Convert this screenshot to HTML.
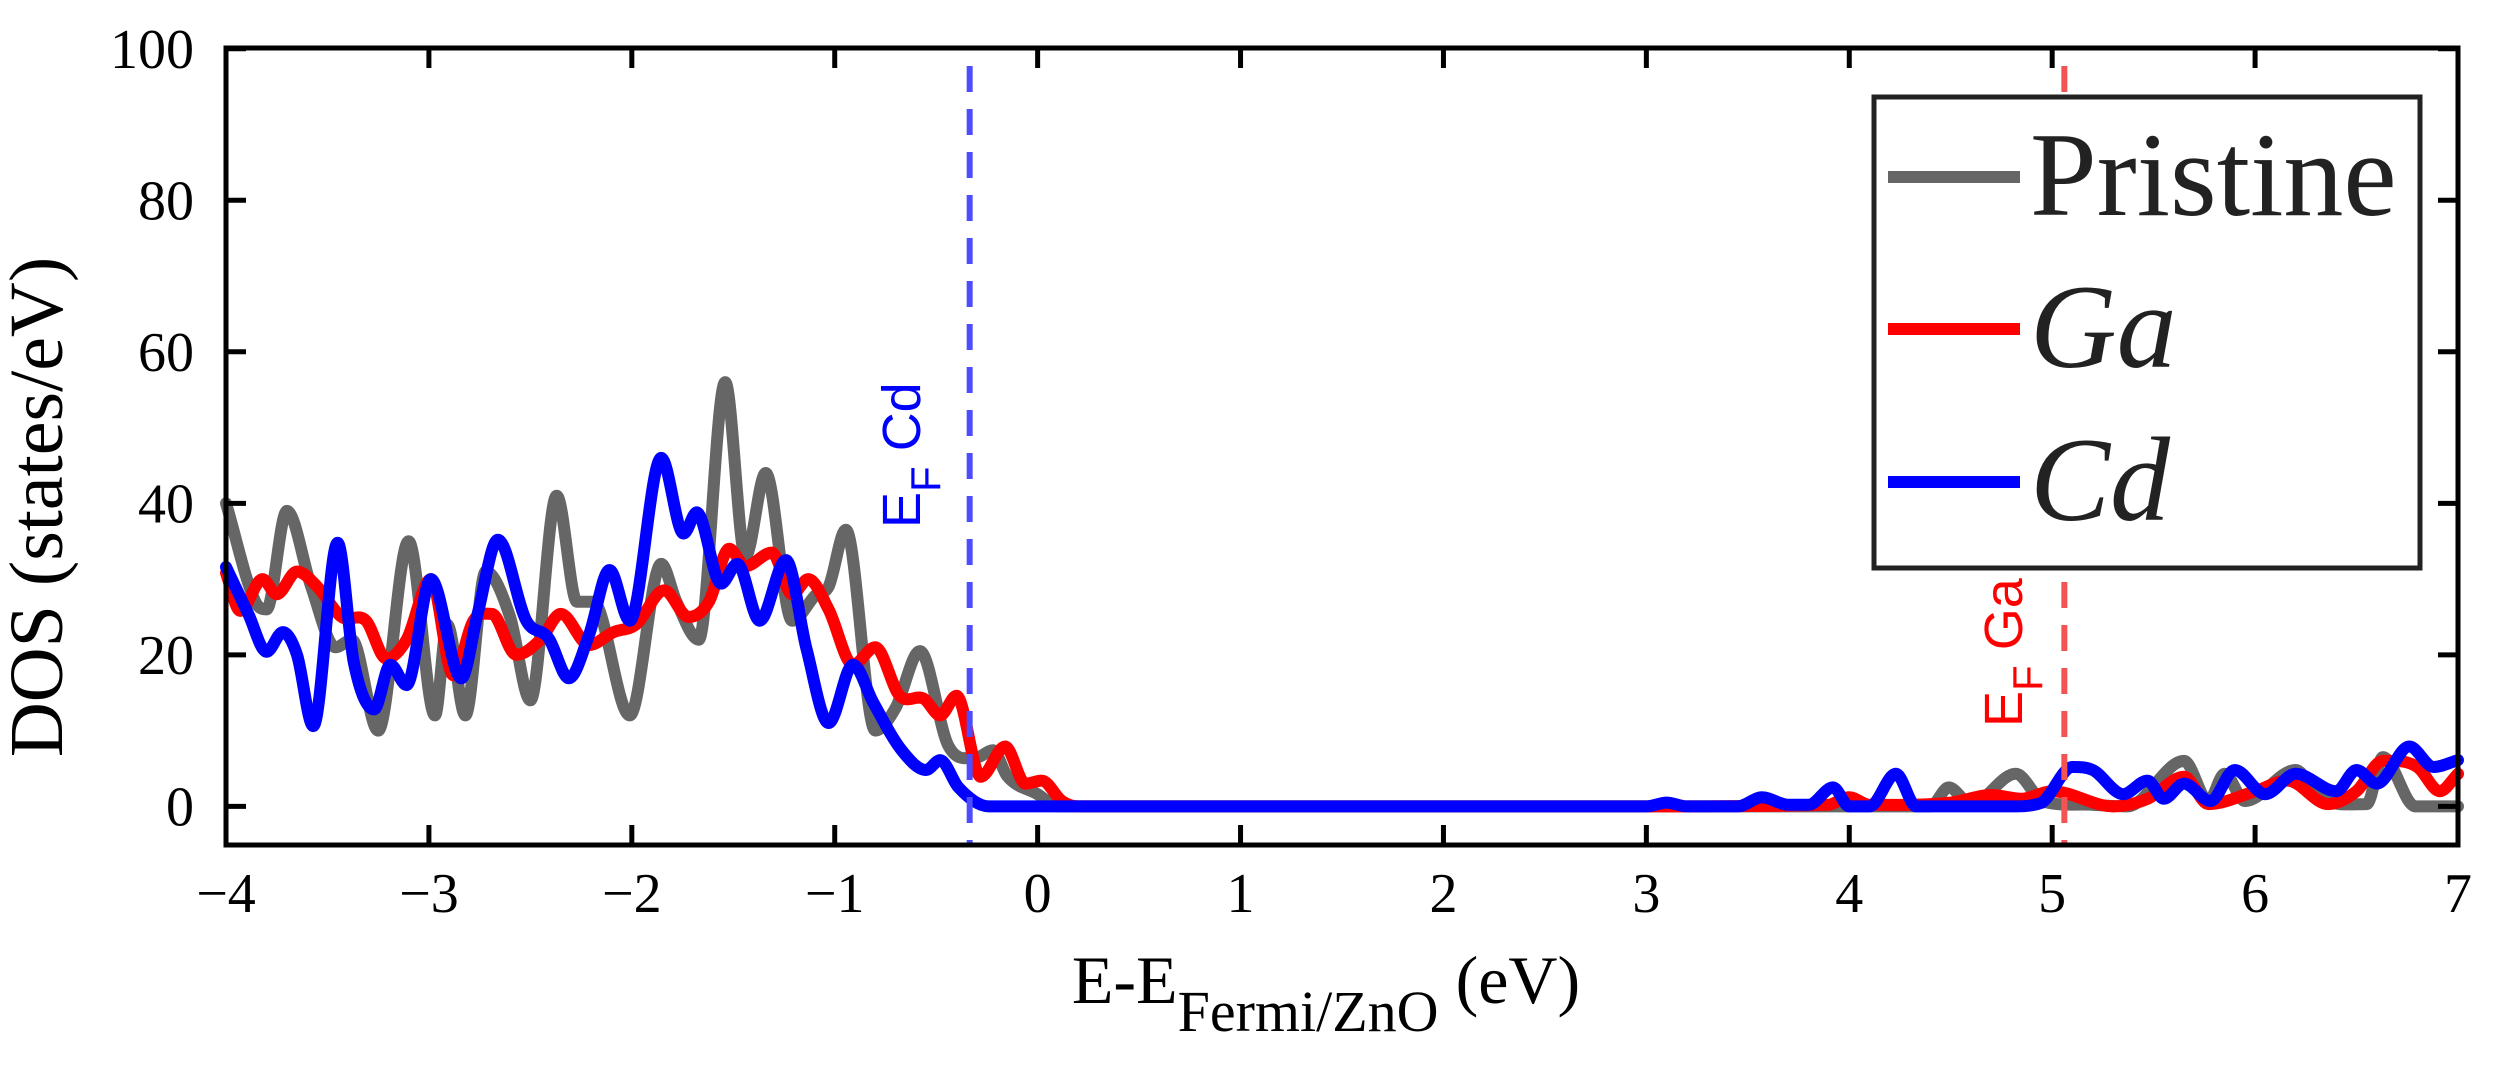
<!DOCTYPE html>
<html><head><meta charset="utf-8"><style>
html,body{margin:0;padding:0;background:#fff;}
svg{display:block;}
</style></head><body>
<svg id="chart" width="2506" height="1069" viewBox="0 0 2506 1069" xmlns="http://www.w3.org/2000/svg">
<rect x="0" y="0" width="2506" height="1069" fill="#fff"/>
<g id="plot"></g>
</svg>
<script>
const pristineE = [-4,-3.855,-3.8,-3.7,-3.58,-3.46,-3.38,-3.25,-3.1,-2.97,-2.91,-2.82,-2.72,-2.6,-2.5,-2.37,-2.27,-2.19,-2.01,-1.855,-1.78,-1.67,-1.54,-1.44,-1.34,-1.21,-1.09,-1.03,-0.945,-0.8,-0.7,-0.58,-0.44,-0.3,-0.22,-0.15,0,0.1,0.2,3.0,4.4,4.49,4.6,4.82,4.95,5.2,5.37,5.65,5.77,5.85,5.95,6.2,6.32,6.55,6.63,6.79,7];
const pristineV = [40,27,26,39,29,21,22,10,35,12,24,12,31,25,14,41,27,27,12,32,27,22,56,33,44,24.5,28,29,36.5,10,13,20.5,8,6.5,7.4,4,1.6,0,0,0,0,2.5,0.3,4.3,0.7,0.2,0,6,0.7,4.3,0.7,4.8,1,0.3,6.5,0,0];
const gaE = [-4,-3.93,-3.82,-3.75,-3.65,-3.55,-3.43,-3.31,-3.21,-3.11,-2.99,-2.88,-2.78,-2.69,-2.57,-2.45,-2.35,-2.21,-2.09,-1.98,-1.84,-1.72,-1.62,-1.52,-1.44,-1.31,-1.21,-1.13,-1.03,-0.91,-0.8,-0.68,-0.56,-0.48,-0.4,-0.28,-0.16,-0.06,0.02,0.12,0.2,3.0,3.9,4.0,4.1,4.5,4.7,4.85,5.0,5.3,5.47,5.65,5.77,6.0,6.16,6.36,6.5,6.63,6.8,6.91,7];
const gaV = [30.8,25.8,30,28,31,29,25,24.5,19.5,22,30,17.3,24.5,25.4,20,22,25.4,21.3,23,24,28.5,25,27,34,31.7,33.5,28,30,26,18.7,21,14.6,14.2,12,14.6,3.9,7.9,3,3.4,0.7,0,0,0.2,1.2,0.2,0.5,1.5,1,2,0,1,3.9,0.3,2,3.4,0.3,2,6,5.2,2,4.3];
const cdE = [-4,-3.89,-3.8,-3.72,-3.65,-3.57,-3.45,-3.37,-3.27,-3.19,-3.11,-2.99,-2.84,-2.76,-2.66,-2.52,-2.41,-2.31,-2.21,-2.11,-2.01,-1.855,-1.745,-1.68,-1.56,-1.48,-1.37,-1.24,-1.14,-1.03,-0.91,-0.81,-0.67,-0.55,-0.48,-0.39,-0.24,-0.1,3.0,3.1,3.2,3.45,3.57,3.7,3.8,3.92,4.0,4.1,4.23,4.33,4.8,4.95,5.1,5.2,5.35,5.47,5.55,5.65,5.78,5.9,6.05,6.2,6.4,6.5,6.6,6.76,6.88,7];
const cdV = [31.6,25.4,20.4,23,20,10.6,34.8,19,12.8,18.7,16,30,16.9,25.4,35.2,24.5,22.2,16.9,22.7,31.2,24.5,46,36,38.8,29.4,32,24.5,32.5,20.9,11,18.7,13.7,7.4,4.8,6.1,2.5,0,0,0,0.5,0,0,1.2,0.2,0.2,2.5,0,0,4.3,0,0,0.5,5.2,4.8,1.6,3.4,1,3,0.7,4.8,1.6,4.3,2,4.8,3,7.9,5.2,6.1];
const xTicks = [-4,-3,-2,-1,0,1,2,3,4,5,6,7];
const xTickLabels = ["\u22124","\u22123","\u22122","\u22121","0","1","2","3","4","5","6","7"];
const yTicks = [0,20,40,60,80,100];
const yTickLabels = ["0","20","40","60","80","100"];
const fermiCd = -0.335;
const fermiGa = 5.06;

const L=226, R=2458, T=48, B=845;
const xMin=-4, xMax=7, yMin=-5.1, yMax=100.1;
const sx = v => L + (v - xMin)/(xMax - xMin)*(R - L);
const sy = v => B - (v - yMin)/(yMax - yMin)*(B - T);
const NS="http://www.w3.org/2000/svg";
const g=document.getElementById('plot');
function mk(tag, attrs){const e=document.createElementNS(NS,tag);for(const k in attrs)e.setAttribute(k,attrs[k]);g.appendChild(e);return e;}

function smoothPath(xs, ys){
  const p = xs.map((x,i)=>[sx(x), sy(ys[i])]);
  const n=p.length, m=[];
  for(let i=0;i<n;i++){
    if(i===0) m.push((p[1][1]-p[0][1])/(p[1][0]-p[0][0]));
    else if(i===n-1) m.push((p[i][1]-p[i-1][1])/(p[i][0]-p[i-1][0]));
    else {
      const d0=(p[i][1]-p[i-1][1])/(p[i][0]-p[i-1][0]);
      const d1=(p[i+1][1]-p[i][1])/(p[i+1][0]-p[i][0]);
      m.push(d0*d1<=0?0:(d0+d1)/2);
    }
  }
  const yb=sy(0);
  let d = `M${p[0][0].toFixed(1)},${p[0][1].toFixed(1)}`;
  for(let i=0;i<n-1;i++){
    const dx=p[i+1][0]-p[i][0];
    const c1=[p[i][0]+dx/3, Math.min(yb,p[i][1]+m[i]*dx/3)];
    const c2=[p[i+1][0]-dx/3, Math.min(yb,p[i+1][1]-m[i+1]*dx/3)];
    d += ` C${c1[0].toFixed(1)},${c1[1].toFixed(1)} ${c2[0].toFixed(1)},${c2[1].toFixed(1)} ${p[i+1][0].toFixed(1)},${p[i+1][1].toFixed(1)}`;
  }
  return d;
}

let s;
s=mk('path',{d:smoothPath(pristineE,pristineV),fill:'none',stroke:'#666666','stroke-width':12,'stroke-linejoin':'round','stroke-linecap':'round'});


s=mk('path',{d:smoothPath(gaE,gaV),fill:'none',stroke:'#ff0000','stroke-width':12,'stroke-linejoin':'round','stroke-linecap':'round'});


s=mk('path',{d:smoothPath(cdE,cdV),fill:'none',stroke:'#0000ff','stroke-width':12,'stroke-linejoin':'round','stroke-linecap':'round'});



s=mk('line',{x1:sx(fermiCd),x2:sx(fermiCd),y1:T+18,y2:B,stroke:'#4d4dff','stroke-width':6,'stroke-dasharray':'26,17'});


s=mk('line',{x1:sx(fermiGa),x2:sx(fermiGa),y1:T+18,y2:B,stroke:'#f35353','stroke-width':6,'stroke-dasharray':'26,17'});



function vlabel(x,y,color,txt,name){
  const t=mk('text',{x:x,y:y,fill:color,'font-family':'Liberation Sans, sans-serif','font-size':54,transform:`rotate(-90 ${x} ${y})`});
  t.innerHTML=`E<tspan dy="20" font-size="42">F</tspan><tspan dy="-20"> ${txt}</tspan>`;
  
  
}
vlabel(920,528,'#0000ff','Cd','fermi-cd-label');
vlabel(2022,727,'#ff0000','Ga','fermi-ga-label');

s=mk('rect',{x:L,y:T,width:R-L,height:B-T,fill:'none',stroke:'#000','stroke-width':5});


xTicks.forEach((v,i)=>{
  const x=sx(v);
  let e=mk('line',{x1:x,x2:x,y1:B,y2:B-20,stroke:'#000','stroke-width':5});
  
  
  e=mk('line',{x1:x,x2:x,y1:T,y2:T+20,stroke:'#000','stroke-width':5});
  
  
  e=mk('text',{x:x,y:912,'text-anchor':'middle','font-family':'Liberation Serif, serif','font-size':56,fill:'#000'});
  e.textContent=xTickLabels[i];
  
  
});
yTicks.forEach((v,i)=>{
  const y=sy(v);
  let e=mk('line',{x1:L,x2:L+20,y1:y,y2:y,stroke:'#000','stroke-width':5});
  
  
  e=mk('line',{x1:R,x2:R-20,y1:y,y2:y,stroke:'#000','stroke-width':5});
  
  
  e=mk('text',{x:194,y:y+19,'text-anchor':'end','font-family':'Liberation Serif, serif','font-size':56,fill:'#000'});
  e.textContent=yTickLabels[i];
  
  
});

s=mk('text',{x:1326,y:1003,'text-anchor':'middle','font-family':'Liberation Serif, serif','font-size':68,fill:'#000'});
s.innerHTML='E-E<tspan dy="28" font-size="58">Fermi/ZnO</tspan><tspan dy="-28"> (eV)</tspan>';


s=mk('text',{x:62,y:507,'text-anchor':'middle','font-family':'Liberation Serif, serif','font-size':76,fill:'#000',transform:'rotate(-90 62 507)'});
s.textContent='DOS (states/eV)';



s=mk('rect',{x:1874,y:97,width:546,height:471,fill:'#fff',stroke:'#222','stroke-width':5});


const legNames=['Pristine','Ga','Cd'], legColors=['#666666','#ff0000','#0000ff'], legY=[177,329,482];
legNames.forEach((n,i)=>{
  let e=mk('line',{x1:1888,x2:2020,y1:legY[i],y2:legY[i],stroke:legColors[i],'stroke-width':12});
  
  
  e=mk('text',{x:2030,y:legY[i]+38,'font-family':'Liberation Serif, serif','font-size':120,fill:'#222','font-style':i?'italic':'normal'});
  e.textContent=n;
  
  
});
</script>
</body></html>
